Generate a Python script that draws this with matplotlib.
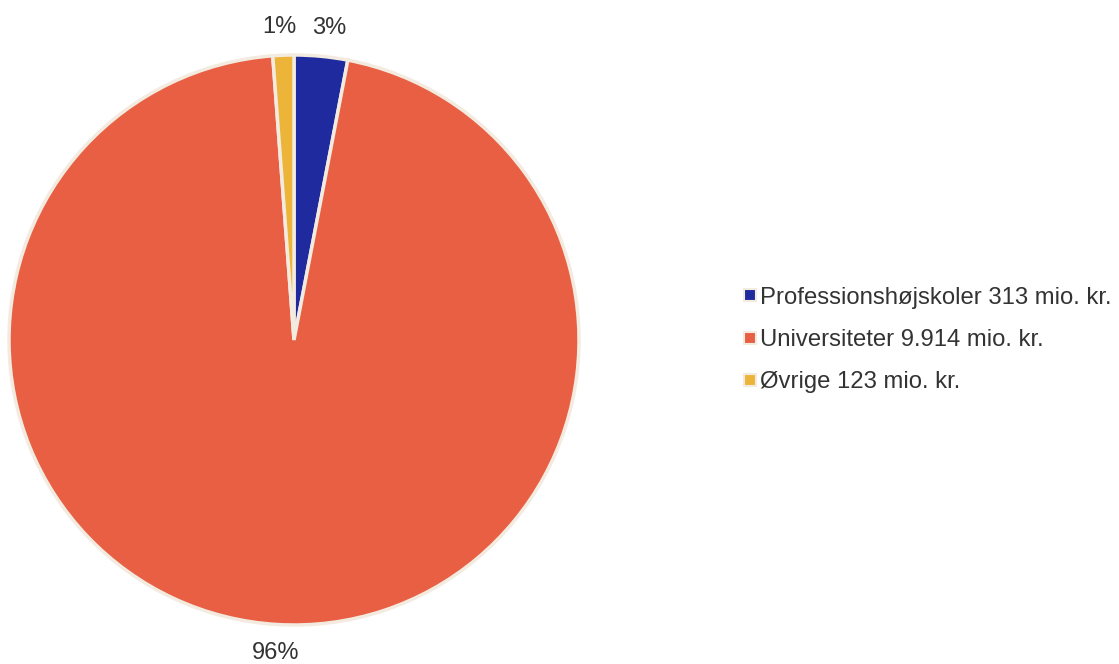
import matplotlib.pyplot as plt
from matplotlib.lines import Line2D

plt.rcParams['font.family'] = ['Liberation Sans', 'DejaVu Sans']

labels = ['Professionshøjskoler 313 mio. kr.', 'Universiteter 9.914 mio. kr.', 'Øvrige 123 mio. kr.']
values = [313, 9914, 123]
colors = ['#1f2a9e', '#e85f44', '#ecb53a']
edge = '#f3ebe0'
text_color = '#333333'

fig = plt.figure(figsize=(11.19, 6.64), dpi=100)
ax = fig.add_axes([9 / 1119, 39 / 664, 570 / 1119, 570 / 664])

wedges, texts, autotexts = ax.pie(values, colors=colors, startangle=90, counterclock=False,
                                  autopct='%1.0f%%', pctdistance=1.10,
                                  wedgeprops=dict(edgecolor=edge, linewidth=2.5),
                                  textprops=dict(color=text_color, fontsize=17))
# spread the two small labels at the top a little
x, y = autotexts[0].get_position()
autotexts[0].set_position((x + 0.02, y))
x, y = autotexts[2].get_position()
autotexts[2].set_position((x - 0.01, y))
ax.set_xlim(-1, 1)
ax.set_ylim(-1, 1)
ax.set_aspect('equal')

handles = [Line2D([], [], marker='s', linestyle='none', markersize=8,
                  markerfacecolor=c, markeredgecolor=edge, markeredgewidth=1.5)
           for c in colors]
fig.legend(handles, labels, loc='center left', bbox_to_anchor=(722 / 1119, (664 - 340) / 664),
           frameon=False, fontsize=17.2, handlelength=0.55, handletextpad=0.15,
           labelspacing=0.85, labelcolor=text_color)

fig.savefig('out.png', dpi=100)
